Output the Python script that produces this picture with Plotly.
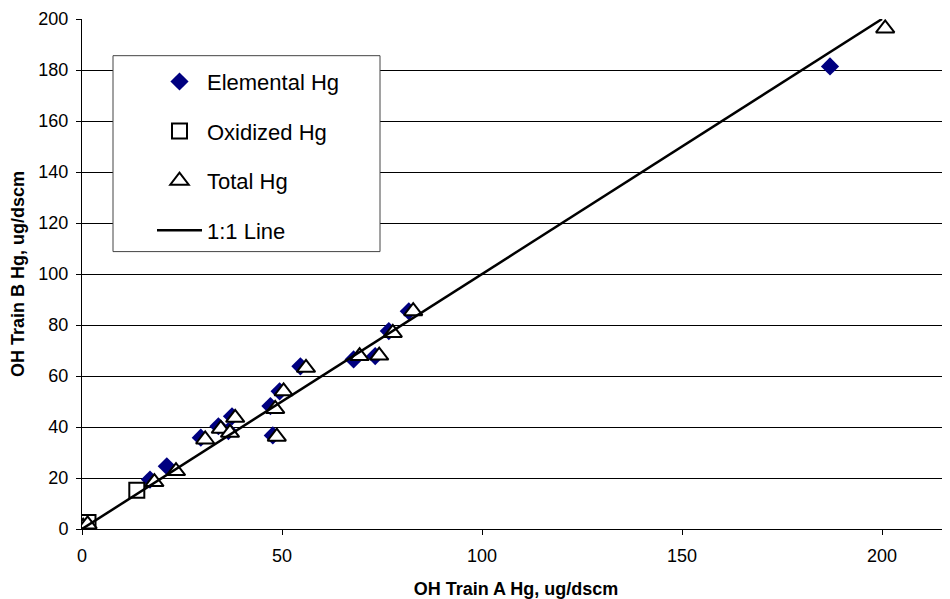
import plotly.graph_objects as go

# Total Hg (Train A, Train B)
total_a = [0.3, 1.4, 18.1, 23.5, 30.8, 34.7, 37.0, 38.3, 48.7, 48.3, 50.4, 56.0, 69.4, 74.3, 77.7, 82.8, 200.8]
total_b = [0.9, 1.8, 18.4, 22.7, 35.1, 39.3, 37.7, 43.6, 36.2, 47.1, 54.0, 63.2, 67.8, 68.0, 76.9, 85.4, 196.3]

# Elemental Hg
elem_a = [17.0, 21.2, 29.7, 34.1, 36.6, 37.5, 47.7, 47.1, 49.4, 54.6, 67.9, 73.3, 76.7, 81.7, 187.0]
elem_b = [19.4, 24.6, 35.8, 40.3, 38.4, 44.2, 36.7, 48.2, 54.0, 63.8, 66.5, 67.8, 77.6, 85.4, 181.4]

# Oxidized Hg
oxid_a = [0.2, 0.8, 1.5, 0.3, 13.7]
oxid_b = [1.8, 0.6, 2.5, 0.2, 15.2]

# 1:1 line
line_x = [0, 200]
line_y = [0, 200]

FONT = "Liberation Sans, Arial, sans-serif"

fig = go.Figure()
fig.add_trace(go.Scatter(x=elem_a, y=elem_b, mode="markers", name="Elemental Hg",
                         legendgroup="g1",
                         marker=dict(symbol="diamond", size=14, color="#000080",
                                     line=dict(width=0))))
fig.add_trace(go.Scatter(x=oxid_a, y=oxid_b, mode="markers", name="Oxidized Hg",
                         legendgroup="g2",
                         marker=dict(symbol="square", size=15, color="white",
                                     line=dict(width=2, color="black"))))
fig.add_trace(go.Scatter(x=total_a, y=total_b, mode="markers", name="Total Hg",
                         legendgroup="g3",
                         marker=dict(symbol="triangle-up", size=16, color="white",
                                     line=dict(width=2, color="black"))))
fig.add_trace(go.Scatter(x=line_x, y=line_y, mode="lines", name="1:1 Line",
                         legendgroup="g4",
                         line=dict(color="black", width=2.5)))

fig.add_shape(type="rect", xref="paper", yref="paper",
              x0=(113 - 82) / 868, x1=(380 - 82) / 868,
              y0=(529.5 - 252) / 510.2, y1=(529.5 - 56) / 510.2,
              line=dict(color="#444444", width=1), fillcolor="white", layer="above")

fig.update_layout(
    width=950, height=599,
    margin=dict(l=74, r=8, t=11.3, b=77.5, autoexpand=False),
    paper_bgcolor="white", plot_bgcolor="white",
    font=dict(family=FONT, size=18, color="black"),
    showlegend=True,
    legend=dict(x=(152 - 82) / 868, y=(529.5 - 61) / 510.2, xanchor="left", yanchor="top",
                bgcolor="rgba(0,0,0,0)", borderwidth=0,
                font=dict(family=FONT, size=22, color="black"),
                traceorder="grouped", tracegroupgap=18, itemwidth=45),
    xaxis=dict(range=[0, 217], tickvals=[0, 50, 100, 150, 200],
               showgrid=False, zeroline=False, showline=True, linecolor="black", linewidth=1,
               ticks="outside", ticklen=5, tickcolor="black", ticklabelstandoff=5,
               title=dict(text="OH Train A Hg, ug/dscm", standoff=17,
                          font=dict(family=FONT, size=18, weight="bold"))),
    yaxis=dict(range=[0, 200], tickvals=list(range(0, 201, 20)),
               showgrid=True, gridcolor="black", gridwidth=1,
               zeroline=False, showline=True, linecolor="black", linewidth=1,
               ticks="outside", ticklen=5, tickcolor="black", ticklabelstandoff=4,
               title=dict(text="OH Train B Hg, ug/dscm", standoff=12,
                          font=dict(family=FONT, size=18, weight="bold"))),
)

fig.write_html("out.html")
